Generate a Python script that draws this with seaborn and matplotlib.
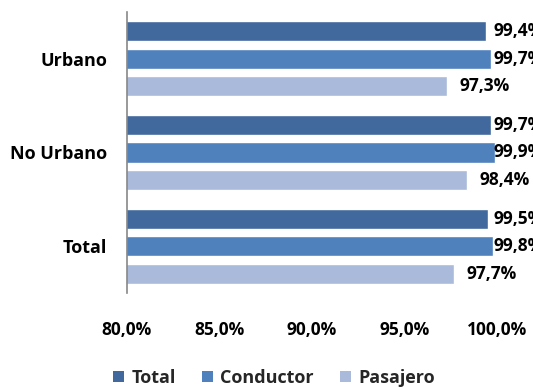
import matplotlib
matplotlib.use("Agg")
import matplotlib.pyplot as plt
from matplotlib.patches import Patch
import seaborn as sns
import pandas as pd

# Data
grupos = ["Urbano", "No Urbano", "Total"]
series = ["Total", "Conductor", "Pasajero"]
total = [99.4, 99.7, 99.5]
conductor = [99.7, 99.9, 99.8]
pasajero = [97.3, 98.4, 97.7]
ticks = [80, 85, 90, 95, 100]
colores = ["#41699D", "#4F81BD", "#AABADA"]

sns.set_theme(style="white")
plt.rcParams["font.family"] = ["Open Sans", "DejaVu Sans"]
plt.rcParams["font.weight"] = "bold"

df = pd.DataFrame({
    "grupo": grupos * 3,
    "serie": [s for s in series for _ in grupos],
    "valor": total + conductor + pasajero,
})

fig = plt.figure(figsize=(5.33, 3.87), dpi=100)
ax = fig.add_axes([0.238, 0.243, 0.6945, 0.726])

sns.barplot(data=df, y="grupo", x="valor", hue="serie", order=grupos,
            hue_order=series, palette=colores, orient="h", width=0.88,
            gap=0.27, saturation=1, legend=False, ax=ax)

ax.set_xlim(80, 100)
ax.set_xticks(ticks)
ax.set_xticklabels([f"{t:.1f}%".replace(".", ",") for t in ticks],
                   fontsize=12.5, fontweight="bold")
ax.set_yticks(range(len(grupos)))
ax.set_yticklabels(grupos, fontsize=13, fontweight="bold")
ax.tick_params(axis="x", length=0, pad=20, colors="black")
ax.tick_params(axis="y", length=0, pad=14, colors="black")
ax.set_xlabel("")
ax.set_ylabel("")

for side in ["top", "right", "bottom"]:
    ax.spines[side].set_visible(False)
ax.spines["left"].set_color("#888888")
ax.spines["left"].set_linewidth(1.2)

# Value labels at the end of each bar, kept inside the plotting width
for cont in ax.containers:
    for bar in cont:
        v = bar.get_width()
        yc = bar.get_y() + bar.get_height() / 2
        xl = min(v + 0.65, 99.8)
        ax.text(xl, yc, f"{v:.1f}%".replace(".", ","), ha="left",
                va="center", fontsize=12.5, fontweight="bold",
                color="black", clip_on=False)

handles = [Patch(facecolor=c, edgecolor="none") for c in colores]
fig.legend(handles, series, loc="center", bbox_to_anchor=(0.514, 0.024),
           ncol=3, frameon=False, handlelength=0.62, handleheight=0.62,
           handletextpad=0.4, columnspacing=1.45,
           prop={"family": ["Open Sans", "DejaVu Sans"], "size": 13,
                 "weight": "bold", "stretch": "normal"})

fig.savefig("out.png", dpi=100)
